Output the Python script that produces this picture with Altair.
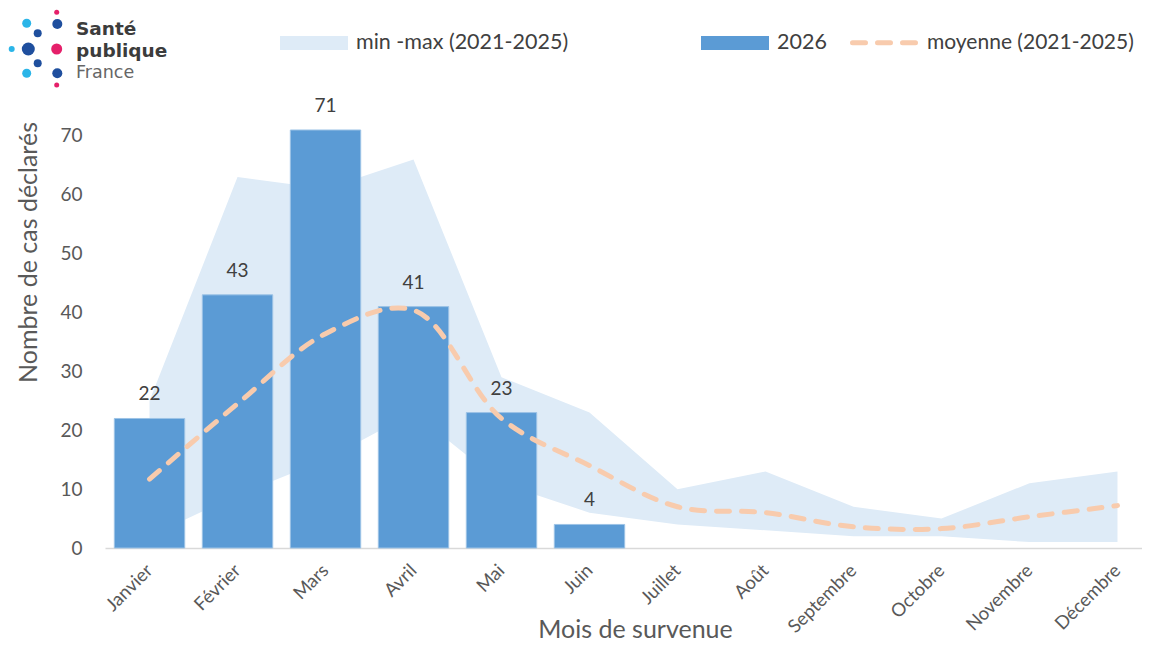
import altair as alt
import pandas as pd

# ---- data ----
mois = ["Janvier", "Février", "Mars", "Avril", "Mai", "Juin", "Juillet",
        "Août", "Septembre", "Octobre", "Novembre", "Décembre"]
cas_2026 = [22, 43, 71, 41, 23, 4, None, None, None, None, None, None]
min_2021_2025 = [2, 9, 15, 23, 11, 6, 4, 3, 2, 2, 1, 1]
max_2021_2025 = [25, 63, 61, 66, 29, 23, 10, 13, 7, 5, 11, 13]
moyenne_2021_2025 = [11.7, 24.5, 36.4, 40.4, 22, 14, 7, 6, 3.6, 3.3, 5.3, 7.2]
y_ticks = [0, 10, 20, 30, 40, 50, 60, 70]

df = pd.DataFrame({
    "mois": mois,
    "cas": cas_2026,
    "min": min_2021_2025,
    "max": max_2021_2025,
    "moyenne": moyenne_2021_2025,
})

FONT = "Lato"
GREY = "#595959"
DARK = "#404040"

x_enc = alt.X(
    "mois:N", sort=mois,
    scale=alt.Scale(range=[0, 1057], paddingInner=0.2, paddingOuter=0.106),
    axis=alt.Axis(
        title="Mois de survenue", labelAngle=-45, labelAlign="right",
        labelBaseline="middle", labelFontSize=18.5, labelColor=GREY, labelFont=FONT,
        labelPadding=19, labelOverlap=False, ticks=False,
        domainColor="#D9D9D9", domainWidth=1.5,
        titleFont=FONT, titleFontSize=25, titleFontWeight="normal", titleColor=GREY,
        titleX=530, titleY=81, titleAlign="center", titleBaseline="middle",
    ),
)

y_scale = alt.Scale(domain=[0, 80])
y_axis = alt.Axis(
    values=y_ticks, title="Nombre de cas déclarés", domain=False, ticks=False,
    grid=False, labelFontSize=19, labelColor=GREY, labelFont=FONT, labelPadding=23,
    titleFont=FONT, titleFontSize=25, titleFontWeight="normal", titleColor=GREY,
    titleX=-77, titleY=175, titleAlign="center", titleBaseline="middle",
    titleAngle=270,
)


def yq(field):
    return alt.Y(f"{field}:Q", scale=y_scale, axis=y_axis)


base = alt.Chart(df)

area = base.mark_area(color="#DEEBF7", opacity=1).encode(
    x=x_enc, y=yq("min"), y2="max:Q"
)
bars = base.mark_bar(color="#5B9BD5", stroke="#9DC3E6", strokeWidth=1).encode(
    x=x_enc, y=yq("cas")
)
line = base.mark_line(
    color="#F8CBAD", strokeWidth=5, strokeDash=[13, 12], strokeCap="round",
    interpolate="catmull-rom",
).encode(x=x_enc, y=yq("moyenne"))
labels = base.mark_text(
    font=FONT, fontSize=19, color=DARK, baseline="alphabetic", dy=-18
).encode(x=x_enc, y=yq("cas"), text=alt.Text("cas:Q", format="d"))

one = alt.Data(values=[{}])


def rect(x1, x2, y1, y2, color):
    return alt.Chart(one).mark_rect(color=color).encode(
        x=alt.value(x1), x2=alt.value(x2), y=alt.value(y1), y2=alt.value(y2))


def txt(x, y, s, size, color, weight="normal", font=FONT, baseline="middle"):
    return alt.Chart(one).mark_text(
        text=s, font=font, fontSize=size, color=color, fontWeight=weight,
        align="left", baseline=baseline,
    ).encode(x=alt.value(x), y=alt.value(y))


def dot(x, y, size, color):
    return alt.Chart(one).mark_circle(color=color, size=size, opacity=1).encode(
        x=alt.value(x), y=alt.value(y))


# ---- legend ----
legend = [
    rect(175, 243, -41, -27, "#DEEBF7"),
    txt(251, -34, "min -max (2021-2025)", 21.5, DARK),
    rect(596, 664, -41, -27, "#5B9BD5"),
    txt(672, -34, "2026", 21.5, DARK),
    alt.Chart(one).mark_rule(
        color="#F8CBAD", strokeWidth=5, strokeDash=[13, 12], strokeCap="round"
    ).encode(x=alt.value(747.5), x2=alt.value(810.5), y=alt.value(-34.3)),
    txt(822, -34, "moyenne (2021-2025)", 21, DARK),
]

# ---- logo ----
NAVY = "#1F4F9E"
CYAN = "#2BB5E8"
PINK = "#E5206A"
LOGO_FONT = "DejaVu Sans"
logo = [
    dot(-48.3, -64.7, 25, PINK),
    dot(-47.7, -53, 100, NAVY),
    dot(-78.3, -53.7, 81, CYAN),
    dot(-67.3, -43.7, 64, NAVY),
    dot(-93.3, -28, 36, CYAN),
    dot(-76.7, -28, 169, NAVY),
    dot(-48.3, -28, 121, PINK),
    dot(-67.3, -13.7, 64, NAVY),
    dot(-78.3, -3.7, 81, CYAN),
    dot(-47.7, -3.7, 100, NAVY),
    dot(-48.3, 8, 25, PINK),
    txt(-29, -42.5, "Santé", 18.5, "#3C3C3C", weight="bold", font=LOGO_FONT,
        baseline="alphabetic"),
    txt(-29, -20.5, "publique", 18.5, "#3C3C3C", weight="bold", font=LOGO_FONT,
        baseline="alphabetic"),
    txt(-29, 1, "France", 17.5, "#666666", font=LOGO_FONT, baseline="alphabetic"),
]

chart = alt.layer(area, bars, line, labels, *legend, *logo).properties(
    width=1037,
    height=471,
    autosize=alt.AutoSizeParams(type="none"),
    padding={"left": 97, "top": 69, "right": 0, "bottom": 99},
    background="white",
).configure_view(stroke=None)

chart.save("out.html", embed_options={"renderer": "svg", "actions": False})
